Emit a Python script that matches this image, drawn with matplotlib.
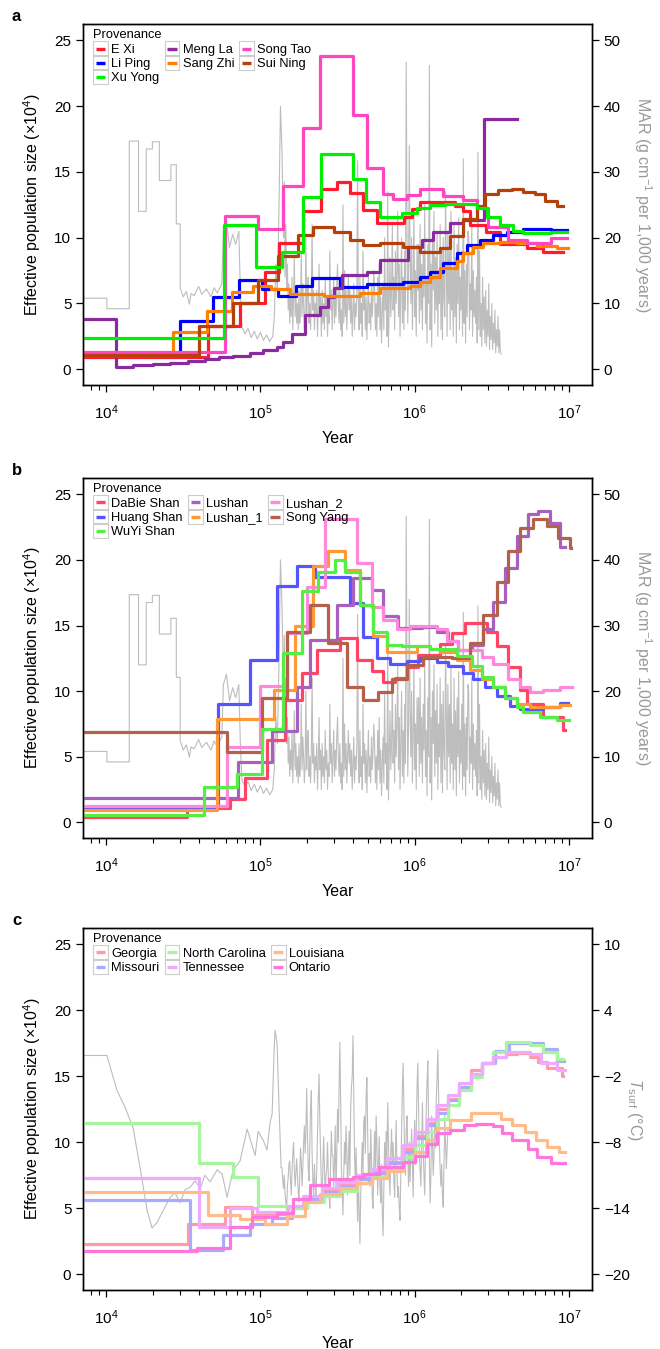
import numpy as np
import matplotlib.pyplot as plt
from matplotlib.ticker import LogLocator, NullFormatter
from matplotlib.legend_handler import HandlerBase
from matplotlib.patches import Rectangle
from matplotlib.lines import Line2D

plt.rcParams['font.family'] = ['Liberation Sans', 'DejaVu Sans']
plt.rcParams['mathtext.fontset'] = 'custom'
plt.rcParams['mathtext.rm'] = 'Liberation Sans'
plt.rcParams['mathtext.it'] = 'Liberation Sans:italic'
plt.rcParams['mathtext.bf'] = 'Liberation Sans:bold'

# ---- panel a: step curves (years = start of each interval, last = end) ----
exi_t = [7.1e3, 4.6e4, 7.4e4, 1.07e5, 1.32e5, 1.89e5, 2.47e5, 3.14e5, 3.8e5, 4.6e5, 5.7e5, 8.5e5, 9.6e5, 1.08e6, 1.83e6, 2.06e6, 2.29e6, 2.9e6, 3.57e6, 5.35e6, 6.8e6, 9.2e6]
exi_n = [0.9, 3.3, 5.0, 7.4, 9.6, 12.0, 13.7, 14.2, 13.4, 12.1, 11.1, 11.6, 12.2, 12.7, 12.4, 12.0, 11.0, 10.4, 9.5, 9.2, 8.9]
liping_t = [7.1e3, 3.0e4, 4.9e4, 7.3e4, 1.02e5, 1.3e5, 1.7e5, 2.15e5, 3.3e5, 4.9e5, 8.4e5, 1.08e6, 1.26e6, 1.53e6, 1.88e6, 2.19e6, 2.66e6, 3.23e6, 3.98e6, 5.0e6, 6.5e6, 7.6e6, 9.7e6]
liping_n = [1.2, 3.7, 5.5, 6.8, 6.1, 5.6, 6.3, 6.9, 6.25, 6.5, 6.65, 7.0, 7.4, 8.1, 8.8, 9.45, 9.8, 10.2, 10.45, 10.65, 10.7, 10.6]
mengla_t = [7.1e3, 1.16e4, 1.5e4, 2.0e4, 2.6e4, 3.4e4, 4.4e4, 5.4e4, 6.6e4, 8.6e4, 1.04e5, 1.28e5, 1.41e5, 1.6e5, 1.95e5, 2.44e5, 2.75e5, 3.0e5, 3.4e5, 4.9e5, 6.0e5, 9.1e5, 1.12e6, 1.32e6, 1.7e6, 2.06e6, 2.8e6, 4.6e6]
mengla_n = [3.8, 0.2, 0.3, 0.4, 0.5, 0.6, 0.75, 0.9, 1.0, 1.2, 1.45, 1.7, 2.1, 2.7, 4.1, 4.75, 5.5, 6.2, 7.2, 7.4, 8.3, 9.3, 9.8, 10.4, 11.1, 11.35, 19.05]
sangzhi_t = [7.1e3, 2.7e4, 4.5e4, 6.5e4, 9.0e4, 1.18e5, 1.55e5, 2.6e5, 4.4e5, 6.0e5, 9.3e5, 1.08e6, 1.26e6, 1.46e6, 1.88e6, 2.06e6, 2.4e6, 2.77e6, 3.57e6, 4.6e6, 6.2e6, 8.4e6, 9.9e6]
sangzhi_n = [1.1, 2.8, 4.4, 5.9, 6.3, 6.1, 5.75, 5.6, 5.8, 6.15, 6.3, 6.65, 7.0, 7.7, 8.2, 8.8, 9.3, 9.6, 9.7, 9.6, 9.4, 9.2]
songtao_t = [7.1e3, 5.9e4, 9.7e4, 1.41e5, 1.9e5, 2.45e5, 4.0e5, 4.9e5, 6.2e5, 7.2e5, 8.9e5, 1.08e6, 1.53e6, 2.06e6, 2.53e6, 3.0e6, 4.0e6, 5.35e6, 7.6e6, 9.7e6]
songtao_n = [1.3, 11.66, 10.7, 13.9, 18.35, 23.85, 19.3, 15.3, 13.3, 12.95, 13.25, 13.7, 13.2, 12.9, 12.25, 10.8, 9.8, 9.6, 10.0]
suining_t = [7.1e3, 4.0e4, 6.6e4, 9.7e4, 1.3e5, 1.76e5, 2.2e5, 3.0e5, 3.8e5, 4.6e5, 6.0e5, 8.4e5, 1.08e6, 1.46e6, 1.7e6, 2.06e6, 2.53e6, 2.86e6, 3.47e6, 4.27e6, 5.0e6, 6.0e6, 7.0e6, 8.4e6, 9.2e6]
suining_n = [1.1, 3.3, 5.0, 6.8, 8.6, 10.2, 10.8, 10.4, 9.8, 9.45, 9.6, 9.3, 8.95, 9.2, 10.1, 11.4, 12.4, 13.3, 13.65, 13.7, 13.5, 13.3, 12.8, 12.4]
xuyong_t = [7.1e3, 5.8e4, 9.4e4, 1.38e5, 1.89e5, 2.47e5, 4.0e5, 4.8e5, 6.0e5, 8.3e5, 1.04e6, 1.26e6, 1.57e6, 2.53e6, 2.95e6, 3.57e6, 4.36e6, 5.0e6, 7.6e6, 9.7e6]
xuyong_n = [2.4, 11.0, 7.8, 8.95, 13.1, 16.4, 14.5, 12.75, 11.6, 11.9, 12.25, 12.5, 12.6, 12.25, 11.6, 11.0, 10.5, 10.35, 10.45]

# ---- panel b ----
dabie_t = [7.1e3, 3.35e4, 6.4e4, 7.9e4, 1.1e5, 1.45e5, 1.86e5, 2.33e5, 3.29e5, 4.24e5, 5.3e5, 6.2e5, 7.5e5, 8.9e5, 1.05e6, 1.46e6, 1.75e6, 2.12e6, 2.94e6, 3.42e6, 4.03e6, 4.82e6, 5.35e6, 6.8e6, 9.2e6, 9.4e6]
dabie_n = [0.38, 1.1, 1.75, 3.35, 6.3, 9.35, 11.4, 13.1, 14.05, 12.4, 11.5, 10.7, 11.0, 11.8, 12.75, 13.6, 14.45, 15.2, 14.5, 13.4, 11.8, 10.1, 9.0, 8.0, 7.0]
huang_t = [7.1e3, 5.3e4, 8.6e4, 1.28e5, 1.73e5, 2.26e5, 3.81e5, 4.6e5, 5.7e5, 6.9e5, 8.9e5, 1.08e6, 1.4e6, 1.65e6, 2.06e6, 2.39e6, 2.86e6, 3.42e6, 4.15e6, 4.82e6, 6.8e6, 8.75e6, 9.9e6]
huang_n = [1.2, 9.0, 12.4, 18.0, 19.5, 18.7, 16.7, 14.1, 12.5, 12.1, 12.3, 12.5, 12.25, 11.9, 11.4, 10.9, 10.3, 9.6, 8.85, 8.6, 8.8, 9.1]
wuyi_t = [7.1e3, 4.3e4, 7.1e4, 1.03e5, 1.4e5, 1.86e5, 2.36e5, 3.05e5, 3.54e5, 4.43e5, 5.37e5, 6.6e5, 8.3e5, 1.26e6, 1.88e6, 2.35e6, 2.73e6, 3.22e6, 3.85e6, 4.6e6, 5.0e6, 6.5e6, 8.4e6, 1.0e7]
wuyi_n = [0.55, 2.7, 3.7, 7.1, 12.9, 17.6, 19.1, 20.0, 19.1, 16.6, 14.5, 13.5, 13.4, 13.2, 12.7, 11.9, 11.1, 10.3, 9.5, 8.8, 8.4, 8.0, 7.8]
lushan_t = [7.1e3, 7.2e4, 1.19e5, 1.73e5, 2.1e5, 3.14e5, 4.0e5, 5.3e5, 6.2e5, 7.8e5, 1.12e6, 1.4e6, 1.65e6, 1.91e6, 2.35e6, 2.77e6, 3.22e6, 3.85e6, 4.6e6, 5.4e6, 6.3e6, 7.5e6, 8.7e6, 9.4e6]
lushan_n = [1.82, 4.6, 6.94, 10.3, 13.9, 16.6, 18.6, 17.7, 15.7, 14.8, 14.9, 14.5, 13.8, 13.1, 13.5, 14.7, 16.8, 19.4, 21.8, 23.5, 23.7, 22.8, 21.0]
lushan1_t = [7.1e3, 5.2e4, 1.23e5, 1.68e5, 2.2e5, 2.75e5, 3.54e5, 4.43e5, 5.37e5, 6.6e5, 1.04e6, 1.26e6, 1.46e6, 1.88e6, 2.29e6, 2.73e6, 3.22e6, 3.85e6, 4.6e6, 5.6e6, 8.75e6, 1.02e7]
lushan1_n = [0.9, 7.9, 10.1, 15.0, 19.5, 20.7, 19.2, 16.6, 14.2, 13.0, 13.4, 13.2, 13.0, 12.4, 11.6, 10.9, 10.3, 9.5, 9.0, 8.8, 8.95]
lushan2_t = [7.1e3, 6.1e4, 1.0e5, 1.49e5, 2.01e5, 2.63e5, 4.24e5, 5.3e5, 6.2e5, 7.7e5, 9.3e5, 1.4e6, 1.62e6, 1.91e6, 2.73e6, 3.22e6, 4.03e6, 4.82e6, 5.6e6, 6.8e6, 8.75e6, 1.05e7]
lushan2_n = [1.24, 5.7, 10.4, 14.4, 17.95, 23.1, 19.75, 16.4, 15.4, 14.7, 15.0, 14.7, 13.8, 13.1, 12.6, 12.1, 10.9, 10.3, 9.9, 10.1, 10.35]
songyang_t = [7.1e3, 6.1e4, 1.02e5, 1.48e5, 2.1e5, 2.75e5, 3.65e5, 4.6e5, 5.8e5, 7.1e5, 8.9e5, 1.13e6, 1.75e6, 2.29e6, 2.77e6, 3.42e6, 4.03e6, 4.82e6, 5.85e6, 7.2e6, 8.5e6, 1.02e7, 1.03e7]
songyang_n = [6.86, 5.37, 9.45, 14.5, 16.6, 13.7, 10.35, 9.35, 9.9, 10.9, 12.0, 12.6, 12.5, 13.7, 15.8, 18.3, 20.7, 22.4, 23.1, 22.6, 21.7, 20.9]

# ---- panel c ----
georgia_t = [7.1e3, 3.4e4, 5.9e4, 8.8e4, 1.2e5, 1.6e5, 2.0e5, 2.6e5, 3.3e5, 4.2e5, 5.3e5, 6.6e5, 8.4e5, 1.0e6, 1.2e6, 1.4e6, 1.65e6, 1.95e6, 2.3e6, 2.75e6, 3.2e6, 3.9e6, 4.6e6, 5.6e6, 6.3e6, 7.2e6, 9.0e6, 9.2e6]
georgia_n = [2.3, 3.8, 5.1, 4.5, 4.6, 5.2, 5.8, 6.3, 6.8, 7.3, 7.8, 8.5, 9.5, 10.5, 11.5, 12.5, 13.3, 14.2, 15.45, 16.0, 16.5, 16.7, 16.8, 16.5, 16.1, 15.6, 15.0]
missouri_t = [7.1e3, 3.5e4, 5.7e4, 8.6e4, 1.19e5, 1.6e5, 2.0e5, 2.6e5, 3.3e5, 4.2e5, 5.3e5, 6.6e5, 8.4e5, 1.0e6, 1.2e6, 1.4e6, 1.65e6, 1.95e6, 2.3e6, 2.75e6, 3.3e6, 4.1e6, 6.8e6, 8.4e6, 9.3e6]
missouri_n = [5.6, 1.8, 3.0, 3.8, 4.3, 5.0, 5.7, 6.2, 6.6, 7.2, 7.7, 8.4, 9.3, 10.3, 11.3, 12.2, 13.2, 14.2, 15.2, 16.05, 16.9, 17.5, 17.1, 16.2]
ncar_t = [7.1e3, 4.0e4, 6.6e4, 9.7e4, 1.55e5, 2.0e5, 2.6e5, 3.3e5, 4.2e5, 5.3e5, 6.6e5, 8.4e5, 1.0e6, 1.2e6, 1.4e6, 1.65e6, 1.95e6, 2.3e6, 2.75e6, 3.2e6, 3.9e6, 5.6e6, 6.8e6, 8.4e6, 9.2e6]
ncar_n = [11.46, 8.4, 7.4, 5.2, 5.0, 5.5, 5.9, 6.3, 6.9, 7.4, 8.0, 8.9, 9.8, 10.8, 11.8, 12.8, 14.0, 14.95, 16.0, 16.85, 17.6, 17.4, 16.85, 16.35]
tenn_t = [7.1e3, 4.0e4, 6.35e4, 9.5e4, 1.5e5, 1.9e5, 2.5e5, 3.2e5, 4.2e5, 5.3e5, 6.6e5, 8.4e5, 1.0e6, 1.2e6, 1.4e6, 1.65e6, 1.95e6, 2.3e6, 2.75e6, 3.2e6, 3.9e6, 5.6e6, 6.6e6, 8.4e6, 9.4e6]
tenn_n = [7.33, 3.6, 5.0, 4.7, 5.2, 5.9, 6.5, 7.0, 7.5, 8.0, 8.8, 9.8, 10.8, 11.8, 12.8, 13.6, 14.5, 15.2, 16.0, 16.5, 16.85, 16.7, 16.0, 15.45]
louis_t = [7.1e3, 4.6e4, 7.4e4, 1.07e5, 1.48e5, 1.95e5, 2.45e5, 3.3e5, 4.2e5, 5.3e5, 6.6e5, 8.4e5, 1.0e6, 1.2e6, 1.4e6, 1.7e6, 2.3e6, 3.6e6, 4.3e6, 5.2e6, 6.1e6, 7.2e6, 8.6e6, 9.4e6]
louis_n = [6.2, 4.5, 4.2, 3.8, 4.4, 5.5, 6.1, 6.5, 6.9, 7.3, 7.8, 8.5, 9.3, 10.15, 11.05, 11.7, 12.2, 11.8, 11.3, 10.8, 10.15, 9.65, 9.3]
ontario_t = [7.1e3, 3.9e4, 6.35e4, 8.8e4, 1.28e5, 1.63e5, 2.1e5, 2.8e5, 4.0e5, 4.6e5, 5.9e5, 8.4e5, 1.0e6, 1.2e6, 1.4e6, 1.7e6, 2.1e6, 2.5e6, 3.2e6, 3.7e6, 4.3e6, 5.4e6, 6.2e6, 7.6e6, 9.4e6]
ontario_n = [1.74, 1.95, 3.6, 4.35, 4.65, 5.7, 6.75, 7.2, 7.35, 7.6, 8.1, 8.5, 9.0, 9.9, 10.7, 10.9, 11.3, 11.4, 11.2, 10.7, 10.2, 9.5, 8.9, 8.4]

# ---- gray MAR record (x given as log10 of year) ----
# coarse early part, read point by point
mar_early_logyr = [3.85, 4.005, 4.005, 4.15, 4.15, 4.21, 4.21, 4.26, 4.26, 4.30, 4.30, 4.345, 4.345, 4.42, 4.42, 4.455, 4.455,
                   4.48, 4.48, 4.50, 4.52, 4.54, 4.55, 4.57, 4.60, 4.62, 4.65, 4.68, 4.70, 4.72, 4.75, 4.76, 4.78, 4.80,
                   4.82, 4.84, 4.86, 4.87, 4.88, 4.90, 4.92, 4.94, 4.96, 4.98, 5.00, 5.02, 5.04, 5.06, 5.08, 5.09, 5.10,
                   5.11, 5.12, 5.13, 5.14]
mar_early = [10.8, 10.8, 9.2, 9.2, 34.7, 34.7, 24.0, 24.0, 33.5, 33.5, 34.6, 34.6, 28.7, 28.7, 31.1, 31.1, 22.1,
             22.1, 12.4, 11.0, 11.8, 9.9, 11.5, 11.2, 12.6, 11.4, 12.2, 11.0, 12.4, 11.6, 13.0, 21.0, 22.6, 18.5,
             20.5, 19.0, 21.0, 12.0, 6.5, 5.4, 6.2, 4.8, 5.8, 4.6, 5.6, 4.4, 5.2, 4.2, 5.0, 8.0, 16,
             12, 24, 40, 33]
# dense part, read every 0.005 decade from 10^5.15 to 10^6.56
mar_dense_logyr = np.arange(5150, 6561, 5) / 1000
mar_dense = [20, 28.5, 14, 22, 12, 16, 9, 13, 7, 11, 8, 14, 6, 11, 17, 8, 12, 7, 10, 6,
             12, 7, 9, 18, 8, 13, 10, 6, 9, 20, 8, 12, 14, 7, 10, 6, 11, 22, 9, 12,
             6, 10, 8, 12, 5, 9, 16, 8, 11, 5, 12, 7, 10, 6, 14, 8, 11, 5, 9, 7,
             18, 9, 12, 6, 10, 14, 7, 11, 8, 13, 16, 10, 7, 12, 6, 9, 5, 25, 7, 15,
             8, 12, 6, 10, 14, 9, 12, 7, 11, 5, 9, 13, 6, 10, 8, 12, 31.7, 9, 6, 14,
             7, 10, 5, 18, 9, 12, 6, 11, 4.5, 9, 14, 7, 10, 6, 13, 8, 11, 15, 12, 6,
             10, 5, 14, 8, 16, 6, 11, 4, 9, 13, 6, 20, 9, 12, 5, 27, 3.4, 10, 17, 8,
             12, 22, 9, 14, 6, 18, 10, 15, 24, 8, 16, 5, 12, 20, 7, 14, 6, 18, 9, 46.7,
             22, 7, 14, 34, 17, 10, 20, 6, 13, 24, 8, 15, 5, 19, 12, 19, 7, 22, 9, 16,
             6, 18, 11, 25, 7, 14, 4, 19, 10, 46.2, 6, 16, 3.4, 20, 12, 24, 7, 17, 9, 21,
             5, 15, 10, 22, 6, 18, 4.5, 20, 11, 8, 27, 16, 5, 21, 10, 18, 6, 24, 9, 15,
             5, 22, 8, 17, 4, 19, 10, 23, 6, 14, 9, 18, 5, 32, 7, 15, 4, 16, 8, 21,
             20, 6, 13, 9, 22, 5, 15, 8, 12, 7, 14, 4, 33, 6, 18, 5, 10, 3.5, 14, 6,
             11, 4, 12, 3.5, 9, 5, 13, 3, 8, 4.5, 10, 3, 7, 4, 9, 2.5, 6, 3.5, 8, 2.5,
             6, 2.8, 2.3]

# ---- gray surface temperature record ----
ts_early_logyr = [3.85, 4.005, 4.071, 4.123, 4.175, 4.22, 4.266, 4.298, 4.33, 4.37, 4.415, 4.447, 4.48, 4.512, 4.544,
                  4.577, 4.61, 4.64, 4.674, 4.72, 4.752, 4.784, 4.817, 4.836, 4.868, 4.914, 4.94, 4.966, 4.985, 5.018,
                  5.043, 5.063, 5.076, 5.089, 5.095, 5.108, 5.12, 5.134]
ts_early = [-0.1, -0.1, -3.3, -4.8, -6.7, -10.3, -14.2, -15.8, -15.3, -14.2, -13.0, -12.6, -13.5, -12.3, -12.1,
            -11.5, -12.2, -11.0, -11.6, -10.5, -10.9, -13.0, -10.9, -10.3, -9.7, -6.8, -8.0, -9.2, -7.0, -7.8,
            -8.7, -6.2, -5.4, 0.4, 2.2, 1.0, -4.4, -10.3]
ts_dense_logyr = np.arange(5140, 6216, 5) / 1000
ts_dense = [-10.3, -11.5, -12.2, -11.0, -12.7, -13.5, -14.2, -12.0, -11.2, -10.0, -9.7, -11.5, -12.8, -10.5, -9.0, -8.0, -10.5, -12.0, -10.8, -9.5,
            -11.0, -12.5, -13.4, -11.0, -8.5, -9.8, -12.0, -10.2, -8.0, -6.5, -9.0, -7.0, -3.1, -7.5, -10.4, -11.5, -8.0, -5.0, -3.3, -9.0,
            -11.6, -12.8, -10.0, -12.0, -13.0, -10.5, -7.0, -4.0, -1.8, -6.0, -9.2, -12.0, -13.4, -10.0, -7.5, -10.4, -13.0, -11.0, -10.4, -8.0,
            -11.0, -12.8, -14.0, -10.0, -7.0, -9.2, -9.2, -12.0, -10.0, -6.5, -12.8, -9.0, -5.0, -8.0, -3.0, 1.1, -4.0, -10.4, -12.0, -14.6,
            -11.0, -8.0, -10.0, -6.5, -9.0, -12.8, -9.5, -7.0, -11.0, -5.0, -3.0, -2.0, 1.7, -4.0, -9.0, -11.6, -8.5, -12.0, -15.2, -11.0,
            -14.0, -17.2, -13.0, -10.4, -8.0, -11.0, -6.0, -5.6, -9.0, -4.0, -2.1, -7.0, -11.6, -9.0, -12.0, -6.8, -9.5, -13.0, -14.0, -10.0,
            -7.0, -11.0, -5.6, -8.0, -12.8, -10.0, -7.5, -12.0, -13.5, -10.0, -14.5, -16.5, -12.0, -8.0, -11.0, -7.0, -9.5, -4.4, -8.0, -11.0,
            -12.8, -9.0, -6.8, -10.0, -8.0, -11.6, -13.0, -9.0, -6.0, -10.5, -13.0, -12.0, -14.0, -15.1, -11.0, -7.0, -3.0, -0.8, -5.0, -9.2,
            -11.0, -7.0, -5.6, -9.0, -12.0, -8.0, -11.6, -9.0, -6.8, -10.0, -13.0, -8.0, -6.0, -10.0, -7.0, -3.0, -0.8, -5.0, -9.0, -10.4,
            -12.0, -8.0, -4.4, -8.5, -11.0, -12.8, -9.0, -5.0, -2.5, -0.6, -6.0, -10.0, -13.5, -11.0, -5.6, -8.0, -11.0, -9.2, -6.0, -8.5,
            -4.0, -2.0, 0.4, -4.0, -8.0, -10.5, -12.0, -10.0, -13.0, -13.9, -10.0, -5.6, -8.0, -10.4, -8.5, -6.8]

mar_logyr = np.concatenate([mar_early_logyr, mar_dense_logyr])
mar_val = np.concatenate([mar_early, mar_dense])
ts_logyr = np.concatenate([ts_early_logyr, ts_dense_logyr])
ts_val = np.concatenate([ts_early, ts_dense])

panel_a = [('E Xi', exi_t, exi_n, '#ff1a2e'), ('Li Ping', liping_t, liping_n, '#0000ff'),
           ('Meng La', mengla_t, mengla_n, '#8a2aa0'), ('Sang Zhi', sangzhi_t, sangzhi_n, '#ff7f00'),
           ('Song Tao', songtao_t, songtao_n, '#ff44c4'), ('Sui Ning', suining_t, suining_n, '#b5400a'),
           ('Xu Yong', xuyong_t, xuyong_n, '#00ee00')]
order_a = ['E Xi', 'Li Ping', 'Xu Yong', 'Meng La', 'Sang Zhi', 'Song Tao', 'Sui Ning']
panel_b = [('DaBie Shan', dabie_t, dabie_n, '#ff4466'), ('Huang Shan', huang_t, huang_n, '#5555ff'),
           ('Lushan', lushan_t, lushan_n, '#a860c0'), ('Lushan_1', lushan1_t, lushan1_n, '#ff9933'),
           ('Lushan_2', lushan2_t, lushan2_n, '#ff88dd'), ('Song Yang', songyang_t, songyang_n, '#b5604a'),
           ('WuYi Shan', wuyi_t, wuyi_n, '#55ee44')]
order_b = ['DaBie Shan', 'Huang Shan', 'WuYi Shan', 'Lushan', 'Lushan_1', 'Lushan_2', 'Song Yang']
panel_c = [('Georgia', georgia_t, georgia_n, '#ff9aaa'), ('Missouri', missouri_t, missouri_n, '#aaaaff'),
           ('North Carolina', ncar_t, ncar_n, '#a8f5a0'), ('Tennessee', tenn_t, tenn_n, '#eeaaff'),
           ('Louisiana', louis_t, louis_n, '#ffbb88'), ('Ontario', ontario_t, ontario_n, '#ff77dd')]
order_c = ['Georgia', 'Missouri', 'North Carolina', 'Tennessee', 'Louisiana', 'Ontario']

GRAY = '#bdbdbd'
fig = plt.figure(figsize=(6.6, 13.49), dpi=100)
boxes = [[0.126, 0.7146, 0.771, 0.2676], [0.126, 0.3788, 0.771, 0.2669], [0.126, 0.0437, 0.771, 0.2684]]


class BoxedKey(HandlerBase):
    # legend key: short thick line inside a light gray square
    def create_artists(self, legend, orig_handle, xdescent, ydescent, width, height, fontsize, trans):
        x0, y0 = -xdescent, -ydescent
        yc = y0 + height / 2
        box = Rectangle((x0, yc - width / 2), width, width, fill=False, ec='#cccccc', lw=0.8, transform=trans)
        ln = Line2D([x0 + 0.18 * width, x0 + 0.82 * width], [yc, yc], color=orig_handle.get_color(),
                    lw=2.4, solid_capstyle='butt', transform=trans)
        return [box, ln]


def draw_panel(box, letter, series, order, glog, gval, rlim, rticks, rlabel, rpad):
    ax = fig.add_axes(box)
    rax = ax.twinx()
    ax.set_zorder(rax.get_zorder() + 1)
    ax.patch.set_visible(False)

    rax.plot(10 ** np.asarray(glog), gval, color=GRAY, lw=0.8)
    handles = {}
    for name, t, n, col in series:
        h, = ax.step(t, n + [n[-1]], where='post', color=col, lw=2.3)
        handles[name] = h

    ax.set_xscale('log')
    ax.set_xlim(7.1e3, 1.41e7)
    ax.set_ylim(-1.2, 26.25)
    ax.set_yticks([0, 5, 10, 15, 20, 25])
    ax.xaxis.set_major_locator(LogLocator(base=10, numticks=10))
    ax.xaxis.set_minor_locator(LogLocator(base=10, subs=np.arange(2, 10), numticks=20))
    ax.xaxis.set_minor_formatter(NullFormatter())
    ax.tick_params(axis='both', which='major', direction='out', length=5, width=0.9, labelsize=11)
    ax.tick_params(axis='x', which='minor', direction='out', length=3.5, width=0.8)
    ax.tick_params(axis='x', pad=8)
    rax.set_ylim(rlim)
    rax.set_yticks(rticks)
    rax.tick_params(axis='y', direction='out', length=5, width=0.9, labelsize=11)
    for sp in list(ax.spines.values()) + list(rax.spines.values()):
        sp.set_linewidth(1.0)

    ax.set_xlabel('Year', fontsize=11.5, labelpad=7)
    ax.set_ylabel('Effective population size (\u00d710$^{4}$)', fontsize=11.5, labelpad=8)
    rax.set_ylabel(rlabel, fontsize=11.5, color='#999999', rotation=270, labelpad=rpad)

    h_ax = box[3] * 1349
    w_ax = box[2] * 660
    ax.text(10 / w_ax, 1 - 11 / h_ax, 'Provenance', transform=ax.transAxes, fontsize=9.3,
            ha='left', va='center')
    ax.legend([handles[k] for k in order], order, loc='upper left', ncol=3, frameon=False,
              bbox_to_anchor=(10 / w_ax, 1 - 20 / h_ax), fontsize=9.3, handlelength=1.15,
              handleheight=0.7, handletextpad=0.25, columnspacing=0.4, labelspacing=0.16,
              borderaxespad=0, borderpad=0, handler_map={Line2D: BoxedKey()})
    ax.text(-0.14, 1.0, letter, transform=ax.transAxes, fontsize=12, fontweight='bold',
            ha='left', va='bottom')


draw_panel(boxes[0], 'a', panel_a, order_a, mar_logyr, mar_val, (-2.4, 52.5), [0, 10, 20, 30, 40, 50],
           'MAR (g cm$^{-1}$ per 1,000 years)', 24)
draw_panel(boxes[1], 'b', panel_b, order_b, mar_logyr, mar_val, (-2.4, 52.5), [0, 10, 20, 30, 40, 50],
           'MAR (g cm$^{-1}$ per 1,000 years)', 24)
draw_panel(boxes[2], 'c', panel_c, order_c, ts_logyr, ts_val, (-21.44, 11.5), [-20, -14, -8, -2, 4, 10],
           '$T_{\\mathrm{surf}}$ (\u00b0C)', 10)

fig.savefig('out.png', dpi=100)
